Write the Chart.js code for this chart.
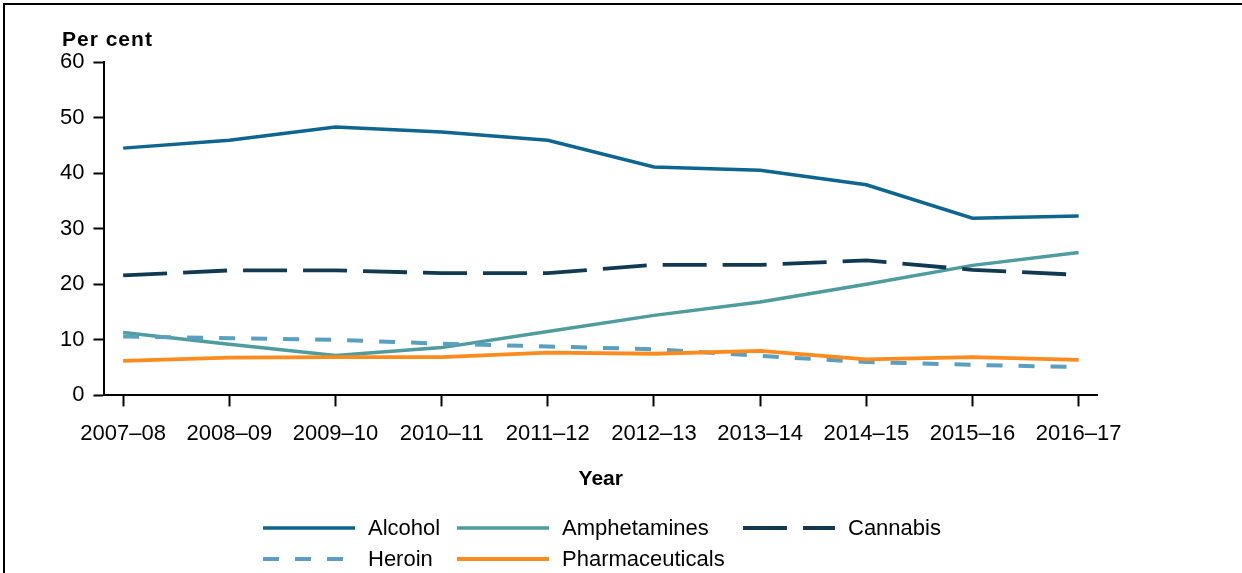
<!DOCTYPE html>
<html lang="en">
<head>
<meta charset="UTF-8">
<title>Per cent by drug, 2007–08 to 2016–17</title>
<script src="https://cdn.jsdelivr.net/npm/chart.js"></script>
<style>
    body { margin: 0; background: #fff; font-family: "Liberation Sans", Arial, sans-serif; }
    #wrap { position: relative; width: 1242px; height: 573px; overflow: hidden; }
    #frame { position: absolute; left: 3px; top: 3px; width: 1250px; height: 600px; border-left: 2px solid #000; border-top: 2px solid #000; }
    #unit { position: absolute; left: 62px; top: 28px; font-weight: bold; font-size: 21px; line-height: 21px; letter-spacing: 1px; color: #000; }
    #legend { position: absolute; left: 263px; top: 512px; font-size: 22px; color: #000; }
    .row { display: flex; height: 31px; align-items: center; }
    .item { display: flex; align-items: center; }
    .item svg { margin-right: 13px; }
</style>
</head>
<body>
<div id="wrap">
    <div id="frame"></div>
    <canvas id="chart" width="1242" height="573"></canvas>
    <div id="unit">Per cent</div>
    <div id="legend"></div>
</div>

<script>
    const years = ['2007–08', '2008–09', '2009–10', '2010–11', '2011–12', '2012–13', '2013–14', '2014–15', '2015–16', '2016–17'];
    const alcohol = [44.5, 45.9, 48.3, 47.4, 45.9, 41.1, 40.5, 37.9, 31.9, 32.3];
    const amphetamines = [11.3, 9.2, 7.2, 8.6, 11.5, 14.4, 16.8, 20.0, 23.4, 25.7];
    const cannabis = [21.6, 22.5, 22.5, 22.0, 22.0, 23.5, 23.5, 24.3, 22.6, 21.7];
    const heroin = [10.6, 10.3, 10.0, 9.3, 8.8, 8.3, 7.1, 6.0, 5.5, 5.1];
    const pharmaceuticals = [6.2, 6.8, 6.9, 6.9, 7.7, 7.5, 8.0, 6.5, 6.9, 6.4];

    const toPoints = arr => arr.map((v, i) => ({ x: i, y: v }));

    const series = [
        { label: 'Alcohol', data: alcohol, color: '#0e6590', dash: [], width: 3.5, order: 4 },
        { label: 'Amphetamines', data: amphetamines, color: '#4e9c9e', dash: [], width: 3.5, order: 3 },
        { label: 'Cannabis', data: cannabis, color: '#113a52', dash: [44, 16], width: 3.8, order: 2 },
        { label: 'Heroin', data: heroin, color: '#5a9fc0', dash: [16, 16], width: 4, order: 1 },
        { label: 'Pharmaceuticals', data: pharmaceuticals, color: '#fb8b1e', dash: [], width: 3.8, order: 0 }
    ];

    const ctx = document.getElementById('chart').getContext('2d');
    const chart = new Chart(ctx, {
        type: 'line',
        data: {
            datasets: series.map(s => ({
                label: s.label,
                data: toPoints(s.data),
                borderColor: s.color,
                backgroundColor: s.color,
                borderWidth: s.width,
                borderDash: s.dash,
                pointRadius: 0,
                tension: 0,
                order: s.order
            }))
        },
        options: {
            responsive: false,
            animation: false,
            layout: { padding: { left: 51, right: 145, top: 62, bottom: 81 } },
            plugins: {
                legend: { display: false },
                tooltip: { enabled: false }
            },
            scales: {
                x: {
                    type: 'linear',
                    min: -0.176,
                    max: 9.173,
                    grid: { drawOnChartArea: false, tickLength: 11, tickColor: '#000', tickWidth: 2 },
                    border: { color: '#000', width: 2 },
                    ticks: {
                        stepSize: 1,
                        includeBounds: false,
                        autoSkip: false,
                        maxRotation: 0,
                        padding: 14,
                        color: '#000',
                        font: { family: '"Liberation Sans", Arial, sans-serif', size: 22 },
                        callback: v => years[v] !== undefined ? years[v] : ''
                    },
                    title: {
                        display: true,
                        text: 'Year',
                        color: '#000',
                        padding: { top: 6, bottom: 0 },
                        font: { family: '"Liberation Sans", Arial, sans-serif', size: 21, weight: 'bold' }
                    }
                },
                y: {
                    min: 0,
                    max: 60,
                    grid: { drawOnChartArea: false, tickLength: 11, tickColor: '#000', tickWidth: 2 },
                    border: { color: '#000', width: 2 },
                    ticks: {
                        stepSize: 10,
                        padding: 9,
                        color: '#000',
                        font: { family: '"Liberation Sans", Arial, sans-serif', size: 22 }
                    }
                }
            }
        }
    });

    // legend laid out as a grid, like the original
    const rows = [[0, 1, 2], [3, 4]];
    const colWidths = [194, 286, 220];
    const legend = document.getElementById('legend');
    rows.forEach(r => {
        const row = document.createElement('div');
        row.className = 'row';
        r.forEach((idx, c) => {
            const s = series[idx];
            const item = document.createElement('div');
            item.className = 'item';
            item.style.width = colWidths[c] + 'px';
            const dash = s.dash.length ? s.dash.join(' ') : 'none';
            item.innerHTML = '<svg width="92" height="6"><line x1="0" y1="3" x2="92" y2="3" stroke="' + s.color +
                '" stroke-width="' + s.width + '" stroke-dasharray="' + dash + '"/></svg><span>' + s.label + '</span>';
            row.appendChild(item);
        });
        legend.appendChild(row);
    });
</script>
</body>
</html>
